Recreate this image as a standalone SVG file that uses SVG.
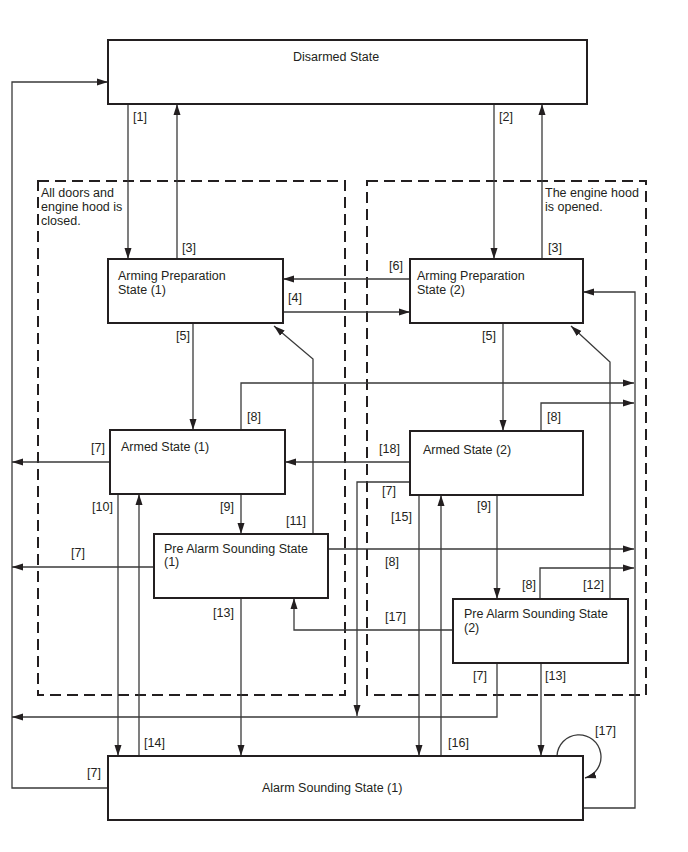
<svg xmlns="http://www.w3.org/2000/svg" width="688" height="852" viewBox="0 0 688 852">
<style>
.bg{fill:#ffffff}
.box{fill:#ffffff;stroke:#231f20;stroke-width:2}
.zone{fill:none;stroke:#231f20;stroke-width:2;stroke-dasharray:11 6}
.c{fill:none;stroke:#3a3a3a;stroke-width:1.3}
.a{marker-end:url(#arr)}
text{font-family:"Liberation Sans",Arial,sans-serif;font-size:12.5px;fill:#231f20}
.lb{font-size:12.5px}
</style>
<defs>
<marker id="arr" markerUnits="userSpaceOnUse" markerWidth="11" markerHeight="8" refX="11" refY="4" orient="auto">
<path d="M0,0.5 L11,4 L0,7.5 z" fill="#231f20"/>
</marker>
</defs>
<rect class="bg" x="0" y="0" width="688" height="852"/>

<g id="zones">
<rect class="zone" x="38" y="181" width="307" height="514"/>
<text x="41" y="197">All doors and</text>
<text x="41" y="211">engine hood is</text>
<text x="41" y="225">closed.</text>
<rect class="zone" x="367" y="181" width="279" height="514"/>
<text x="545" y="197">The engine hood</text>
<text x="545" y="211">is opened.</text>
</g>

<g id="connectors">
<!-- Disarmed <-> AP -->
<line class="c a" x1="128" y1="104" x2="128" y2="259"/>
<line class="c a" x1="177" y1="259" x2="177" y2="104"/>
<line class="c a" x1="494" y1="104" x2="494" y2="259"/>
<line class="c a" x1="542" y1="259" x2="542" y2="104"/>
<!-- Alarm [7] to disarmed -->
<polyline class="c a" points="108,788 12,788 12,82 108,82"/>
<!-- [6] and [4] -->
<line class="c a" x1="410" y1="279" x2="283" y2="279"/>
<line class="c a" x1="283" y1="312" x2="410" y2="312"/>
<!-- [5] -->
<line class="c a" x1="193" y1="323" x2="193" y2="430"/>
<line class="c a" x1="503" y1="323" x2="503" y2="431"/>
<!-- Alarm -> AP2 loop right -->
<polyline class="c a" points="583,808 635,808 635,292 583,292"/>
<!-- [8] lines -->
<polyline class="c a" points="241,430 241,383 634,383"/>
<polyline class="c a" points="541,431 541,403 634,403"/>
<line class="c a" x1="328" y1="549" x2="634" y2="549"/>
<polyline class="c a" points="540,599 540,568 634,568"/>
<!-- [7] lines -->
<line class="c a" x1="110" y1="462" x2="12" y2="462"/>
<line class="c a" x1="154" y1="567" x2="12" y2="567"/>
<polyline class="c a" points="497,663 497,717 12,717"/>
<polyline class="c a" points="410,482 357,482 357,716"/>
<!-- [18] -->
<line class="c a" x1="410" y1="462" x2="285" y2="462"/>
<!-- [9] -->
<line class="c a" x1="241" y1="494" x2="241" y2="534"/>
<line class="c a" x1="497" y1="495" x2="497" y2="599"/>
<!-- [10] [14] -->
<line class="c a" x1="118" y1="494" x2="118" y2="756"/>
<line class="c a" x1="139" y1="756" x2="139" y2="494"/>
<!-- [15] [16] -->
<line class="c a" x1="419" y1="495" x2="419" y2="756"/>
<line class="c a" x1="441" y1="756" x2="441" y2="495"/>
<!-- [11] [12] -->
<polyline class="c a" points="313,534 313,359 274,326"/>
<polyline class="c a" points="610,599 610,362 571,326"/>
<!-- [13] -->
<line class="c a" x1="241" y1="598" x2="241" y2="756"/>
<line class="c a" x1="541" y1="663" x2="541" y2="756"/>
<!-- [17] -->
<polyline class="c a" points="453,630 294,630 294,598"/>
<path class="c a" d="M557,756 A22,22 0 1 1 585,778"/>
</g>

<g id="labels">
<text x="133" y="121">[1]</text>
<text x="182" y="252">[3]</text>
<text x="499" y="121">[2]</text>
<text x="548" y="252">[3]</text>
<text x="288" y="302">[4]</text>
<text x="389" y="270">[6]</text>
<text x="176" y="340">[5]</text>
<text x="482" y="340">[5]</text>
<text x="247" y="421">[8]</text>
<text x="547" y="421">[8]</text>
<text x="91" y="452">[7]</text>
<text x="379" y="453">[18]</text>
<text x="382" y="495">[7]</text>
<text x="92" y="511">[10]</text>
<text x="220" y="511">[9]</text>
<text x="477" y="510">[9]</text>
<text x="391" y="521">[15]</text>
<text x="286" y="525">[11]</text>
<text x="71" y="557">[7]</text>
<text x="385" y="566">[8]</text>
<text x="522" y="589">[8]</text>
<text x="583" y="589">[12]</text>
<text x="213" y="617">[13]</text>
<text x="385" y="621">[17]</text>
<text x="473" y="680">[7]</text>
<text x="545" y="680">[13]</text>
<text x="595" y="735">[17]</text>
<text x="144" y="747">[14]</text>
<text x="448" y="747">[16]</text>
<text x="87" y="777">[7]</text>
</g>

<g id="disarmed">
<rect class="box" x="108" y="40" width="479" height="64"/>
<text x="293" y="61">Disarmed State</text>
</g>
<g id="arming-prep-1">
<rect class="box" x="108" y="259" width="175" height="64"/>
<text x="118" y="280">Arming Preparation</text>
<text x="118" y="294">State (1)</text>
</g>
<g id="arming-prep-2">
<rect class="box" x="410" y="259" width="173" height="64"/>
<text x="417" y="280">Arming Preparation</text>
<text x="417" y="294">State (2)</text>
</g>
<g id="armed-1">
<rect class="box" x="110" y="430" width="175" height="64"/>
<text x="121" y="451">Armed State (1)</text>
</g>
<g id="armed-2">
<rect class="box" x="410" y="431" width="173" height="64"/>
<text x="423" y="454">Armed State (2)</text>
</g>
<g id="pre-alarm-1">
<rect class="box" x="154" y="534" width="174" height="64"/>
<text x="164" y="553">Pre Alarm Sounding State</text>
<text x="164" y="566">(1)</text>
</g>
<g id="pre-alarm-2">
<rect class="box" x="453" y="599" width="175" height="64"/>
<text x="464" y="618">Pre Alarm Sounding State</text>
<text x="464" y="632">(2)</text>
</g>
<g id="alarm">
<rect class="box" x="108" y="756" width="475" height="64"/>
<text x="262" y="792">Alarm Sounding State (1)</text>
</g>
</svg>
